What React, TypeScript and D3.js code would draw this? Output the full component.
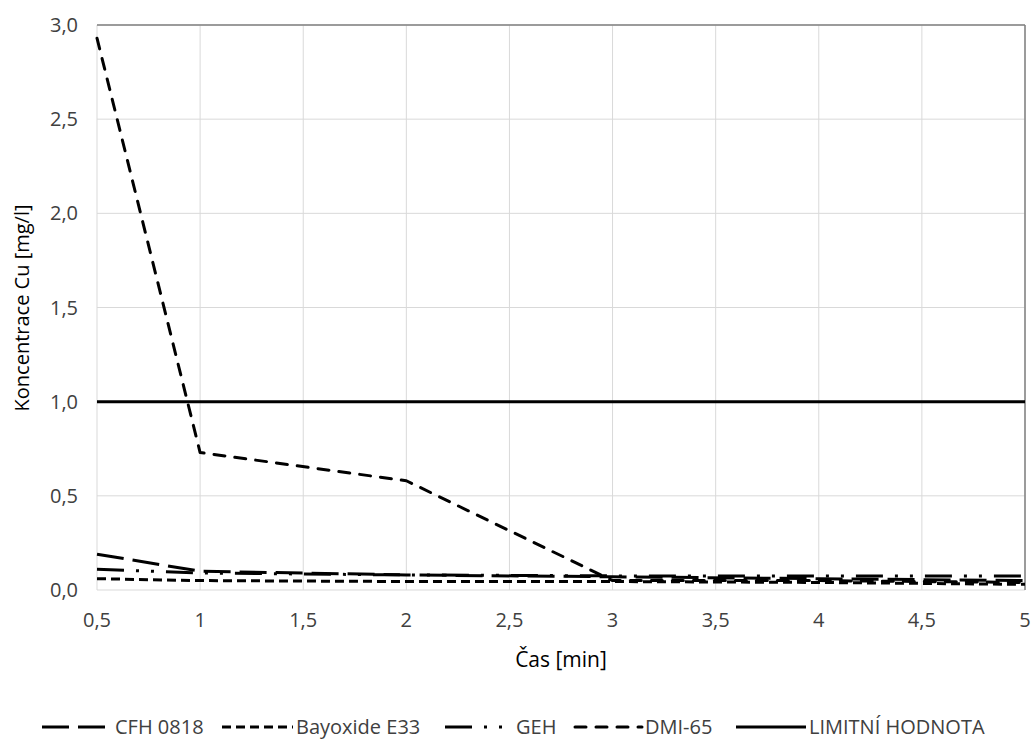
import React from 'react';
import * as d3 from 'd3';

const times = [0.5, 1, 2, 3, 4, 5];
const cfh0818 = [0.19, 0.1, 0.08, 0.07, 0.06, 0.05];
const bayoxideE33 = [0.06, 0.05, 0.045, 0.045, 0.04, 0.03];
const geh = [0.11, 0.09, 0.08, 0.075, 0.075, 0.075];
const dmi65 = [2.93, 0.73, 0.58, 0.05, 0.05, 0.04];
const limit = [1, 1, 1, 1, 1, 1];

const xTicks = [0.5, 1, 1.5, 2, 2.5, 3, 3.5, 4, 4.5, 5];
const yTicks = [0, 0.5, 1, 1.5, 2, 2.5, 3];

const series = [
    { name: 'CFH 0818', values: cfh0818, dash: '27 9', cap: 'butt' },
    { name: 'Bayoxide E33', values: bayoxideE33, dash: '9 5', cap: 'butt' },
    { name: 'GEH', values: geh, dash: '27 12 3 12 3 12', cap: 'butt' },
    { name: 'DMI-65', values: dmi65, dash: '11 10', cap: 'round' },
    { name: 'LIMITNÍ HODNOTA', values: limit, dash: null, cap: 'butt' },
];

const legendPos = [
    { x: 42, w: 70 },
    { x: 222, w: 71 },
    { x: 445, w: 68 },
    { x: 575, w: 67 },
    { x: 736, w: 70 },
];

const font = '"Open Sans", Lato, sans-serif';

export default function App() {
    const left = 97, right = 1025, top = 25, bottom = 590;
    const x = d3.scaleLinear().domain([0.5, 5]).range([left, right]);
    const y = d3.scaleLinear().domain([0, 3]).range([bottom, top]);
    const fmt = (v: number) => v.toFixed(1).replace('.', ',');
    const xfmt = (v: number) => String(v).replace('.', ',');

    const line = d3.line<number>()
        .x((_, i) => x(times[i]))
        .y(d => y(d));

    return (
        <svg width={1034} height={742} style={{ position: 'absolute', left: 0, top: 0, background: '#fff' }}>
            {/* grid */}
            {xTicks.map(t => (
                <line key={'gx' + t} x1={x(t)} x2={x(t)} y1={top} y2={bottom} stroke="#d9d9d9" strokeWidth={1} />
            ))}
            {yTicks.map(t => (
                <line key={'gy' + t} x1={left} x2={right} y1={y(t)} y2={y(t)} stroke="#d9d9d9" strokeWidth={1} />
            ))}
            <line x1={left} x2={right} y1={top} y2={top} stroke="#808080" strokeWidth={1.5} />
            <line x1={right} x2={right} y1={top} y2={bottom} stroke="#808080" strokeWidth={1.5} />

            {/* series */}
            {series.map(s => (
                <path
                    key={s.name}
                    d={line(s.values) || ''}
                    fill="none"
                    stroke="#000"
                    strokeWidth={3}
                    strokeDasharray={s.dash || undefined}
                    strokeLinecap={s.cap as any}
                    strokeLinejoin="round"
                />
            ))}

            {/* tick labels */}
            {yTicks.map(t => (
                <text key={'ty' + t} x={78} y={y(t)} dy="0.35em" textAnchor="end"
                    fontFamily={font} fontSize={20} fill="#404040">{fmt(t)}</text>
            ))}
            {xTicks.map(t => (
                <text key={'tx' + t} x={x(t)} y={620} dy="0.35em" textAnchor="middle"
                    fontFamily={font} fontSize={20} fill="#404040">{xfmt(t)}</text>
            ))}

            {/* axis titles */}
            <text x={561} y={660} dy="0.35em" textAnchor="middle" fontFamily={font} fontSize={21} fill="#000">Čas [min]</text>
            <text transform="translate(22,308) rotate(-90)" dy="0.35em" textAnchor="middle"
                fontFamily={font} fontSize={20} fill="#000">Koncentrace Cu [mg/l]</text>

            {/* legend */}
            {series.map((s, i) => (
                <g key={'lg' + s.name}>
                    <line x1={legendPos[i].x} x2={legendPos[i].x + legendPos[i].w} y1={727} y2={727}
                        stroke="#000" strokeWidth={3}
                        strokeDasharray={s.dash || undefined}
                        strokeLinecap={s.cap as any} />
                    <text x={legendPos[i].x + legendPos[i].w + 3} y={727} dy="0.35em"
                        fontFamily={font} fontSize={20} fill="#404040">{s.name}</text>
                </g>
            ))}
        </svg>
    );
}
